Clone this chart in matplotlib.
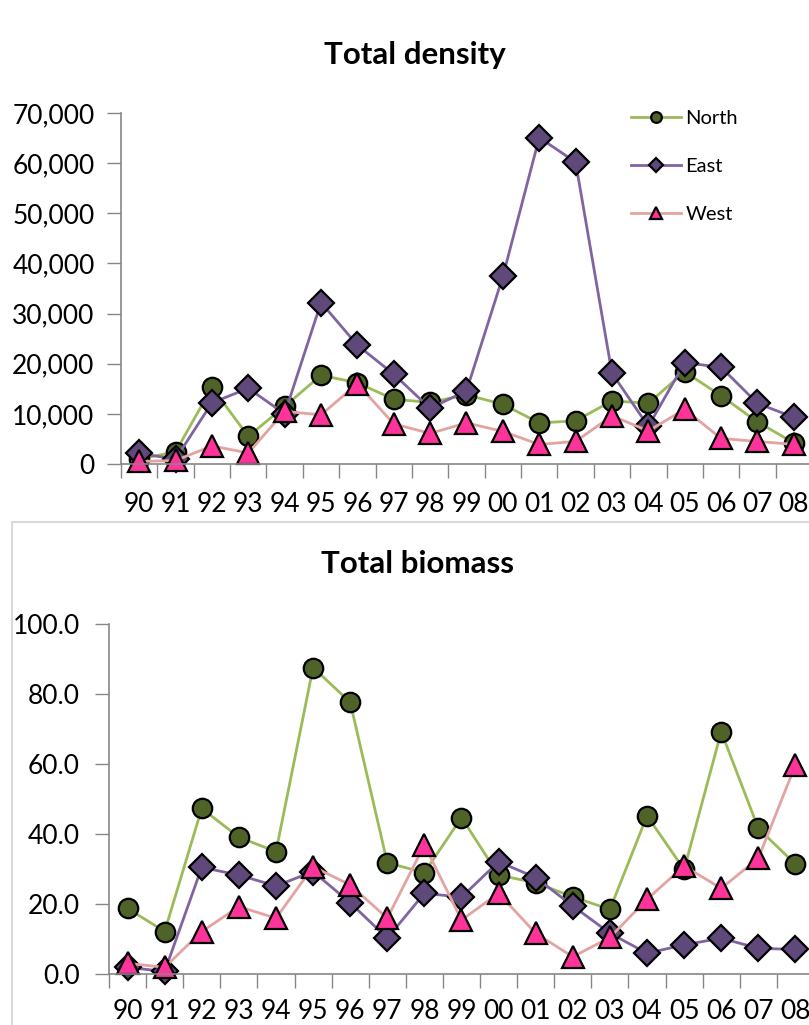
import matplotlib
matplotlib.use("Agg")
import matplotlib.pyplot as plt
from matplotlib.patches import Rectangle
from matplotlib.ticker import FuncFormatter, FixedLocator

plt.rcParams['font.family'] = ['Lato', 'DejaVu Sans']

years = ["90", "91", "92", "93", "94", "95", "96", "97", "98", "99",
         "00", "01", "02", "03", "04", "05", "06", "07", "08"]

density_north = [1000, 2400, 15300, 5500, 11500, 17700, 16200, 12900, 12300, 13800,
                 11900, 8200, 8600, 12600, 12100, 18400, 13600, 8400, 4200]
density_east = [2100, 1000, 12200, 15100, 10000, 32200, 23700, 17900, 11100, 14600,
                37400, 65100, 60200, 18100, 7500, 20200, 19300, 12100, 9300]
density_west = [500, 700, 3600, 2200, 10500, 9800, 16000, 8000, 6100, 8200,
                6500, 3900, 4500, 9600, 6600, 10900, 5100, 4500, 3900]

biomass_north = [18.8, 12.2, 47.3, 39.1, 35.0, 87.5, 77.6, 31.8, 29.0, 44.7,
                 28.3, 26.1, 22.1, 18.5, 45.2, 29.9, 69.2, 41.6, 31.4]
biomass_east = [2.0, 0.8, 30.5, 28.3, 25.2, 29.3, 20.4, 10.3, 23.1, 22.0,
                32.1, 27.6, 19.5, 11.7, 6.0, 8.4, 10.3, 7.4, 7.1]
biomass_west = [3.1, 2.0, 12.2, 19.3, 16.0, 30.7, 25.5, 16.0, 36.9, 15.5,
                23.1, 11.7, 5.0, 10.5, 21.4, 30.9, 24.5, 33.1, 59.7]

series_names = ["North", "East", "West"]
line_colors = ["#9BBB59", "#8064A2", "#E3A3A1"]
face_colors = ["#4F6228", "#5F497A", "#FF3399"]
markers = ["o", "D", "^"]
msizes = [14, 13.5, 16]

W, H = 809, 1025
fig = plt.figure(figsize=(W / 100, H / 100), dpi=100)

# frame around the lower chart (cut by the image edge)
fig.patches.append(Rectangle((11.5 / W, -0.1), 2.0, (1 - 522 / H) + 0.1,
                             transform=fig.transFigure, fill=False,
                             edgecolor="#D9D9D9", lw=1.5, zorder=0))

def style_axes(ax, ymax, ystep, fmt, ylabel_pad, xlabel_pad):
    n = len(years)
    ax.set_xlim(-0.5, n - 0.5)
    ax.set_ylim(0, ymax)
    ax.xaxis.set_major_locator(FixedLocator([i - 0.5 for i in range(n + 1)]))
    ax.xaxis.set_minor_locator(FixedLocator(list(range(n))))
    ax.xaxis.set_major_formatter(FuncFormatter(lambda v, p: ""))
    ax.xaxis.set_minor_formatter(FuncFormatter(lambda v, p: years[int(round(v))]))
    ax.tick_params(axis="x", which="major", length=10, width=1, color="#868686", direction="out")
    ax.tick_params(axis="x", which="minor", length=0, pad=xlabel_pad, labelsize=19)
    ax.set_yticks([ystep * i for i in range(int(round(ymax / ystep)) + 1)])
    ax.yaxis.set_major_formatter(FuncFormatter(fmt))
    ax.tick_params(axis="y", length=10, width=1, color="#868686", pad=ylabel_pad, labelsize=19)
    for s in ["top", "right"]:
        ax.spines[s].set_visible(False)
    for s in ["left", "bottom"]:
        ax.spines[s].set_color("#868686")
        ax.spines[s].set_linewidth(1.2)
    ax.set_facecolor("none")

def plot_series(ax, data_list):
    xs = list(range(len(years)))
    handles = []
    for data, name, lc, fc, mk, ms in zip(data_list, series_names, line_colors,
                                          face_colors, markers, msizes):
        h, = ax.plot(xs, data, color=lc, lw=2, marker=mk, markersize=ms,
                     markerfacecolor=fc, markeredgecolor="black", markeredgewidth=1.6,
                     label=name, clip_on=False)
        handles.append(h)
    return handles

# top chart
ax1 = fig.add_axes([121 / W, 1 - 464 / H, (812 - 121) / W, (464 - 113) / H])
style_axes(ax1, 70000, 10000, lambda v, p: f"{int(v):,}", 9, 20)
h = plot_series(ax1, [density_north, density_east, density_west])
fig.text(415 / W, 1 - 55 / H, "Total density", fontsize=22.5, fontweight="bold",
         ha="center", va="center")
leg = ax1.legend(handles=h, loc="upper left",
                 bbox_to_anchor=(623 / W, 1 - 101.5 / H), bbox_transform=fig.transFigure,
                 frameon=False, fontsize=14.5, markerscale=0.55, handlelength=2.5,
                 handletextpad=0.2, labelspacing=1.55, borderaxespad=0)

# bottom chart
ax2 = fig.add_axes([109 / W, 1 - 974.3 / H, (814 - 109) / W, (974.3 - 623.7) / H])
style_axes(ax2, 100, 20, lambda v, p: f"{v:.1f}", 11, 18)
plot_series(ax2, [biomass_north, biomass_east, biomass_west])
fig.text(417 / W, 1 - 564 / H, "Total biomass", fontsize=22.5, fontweight="bold",
         ha="center", va="center")

fig.savefig("out.png", dpi=100)
